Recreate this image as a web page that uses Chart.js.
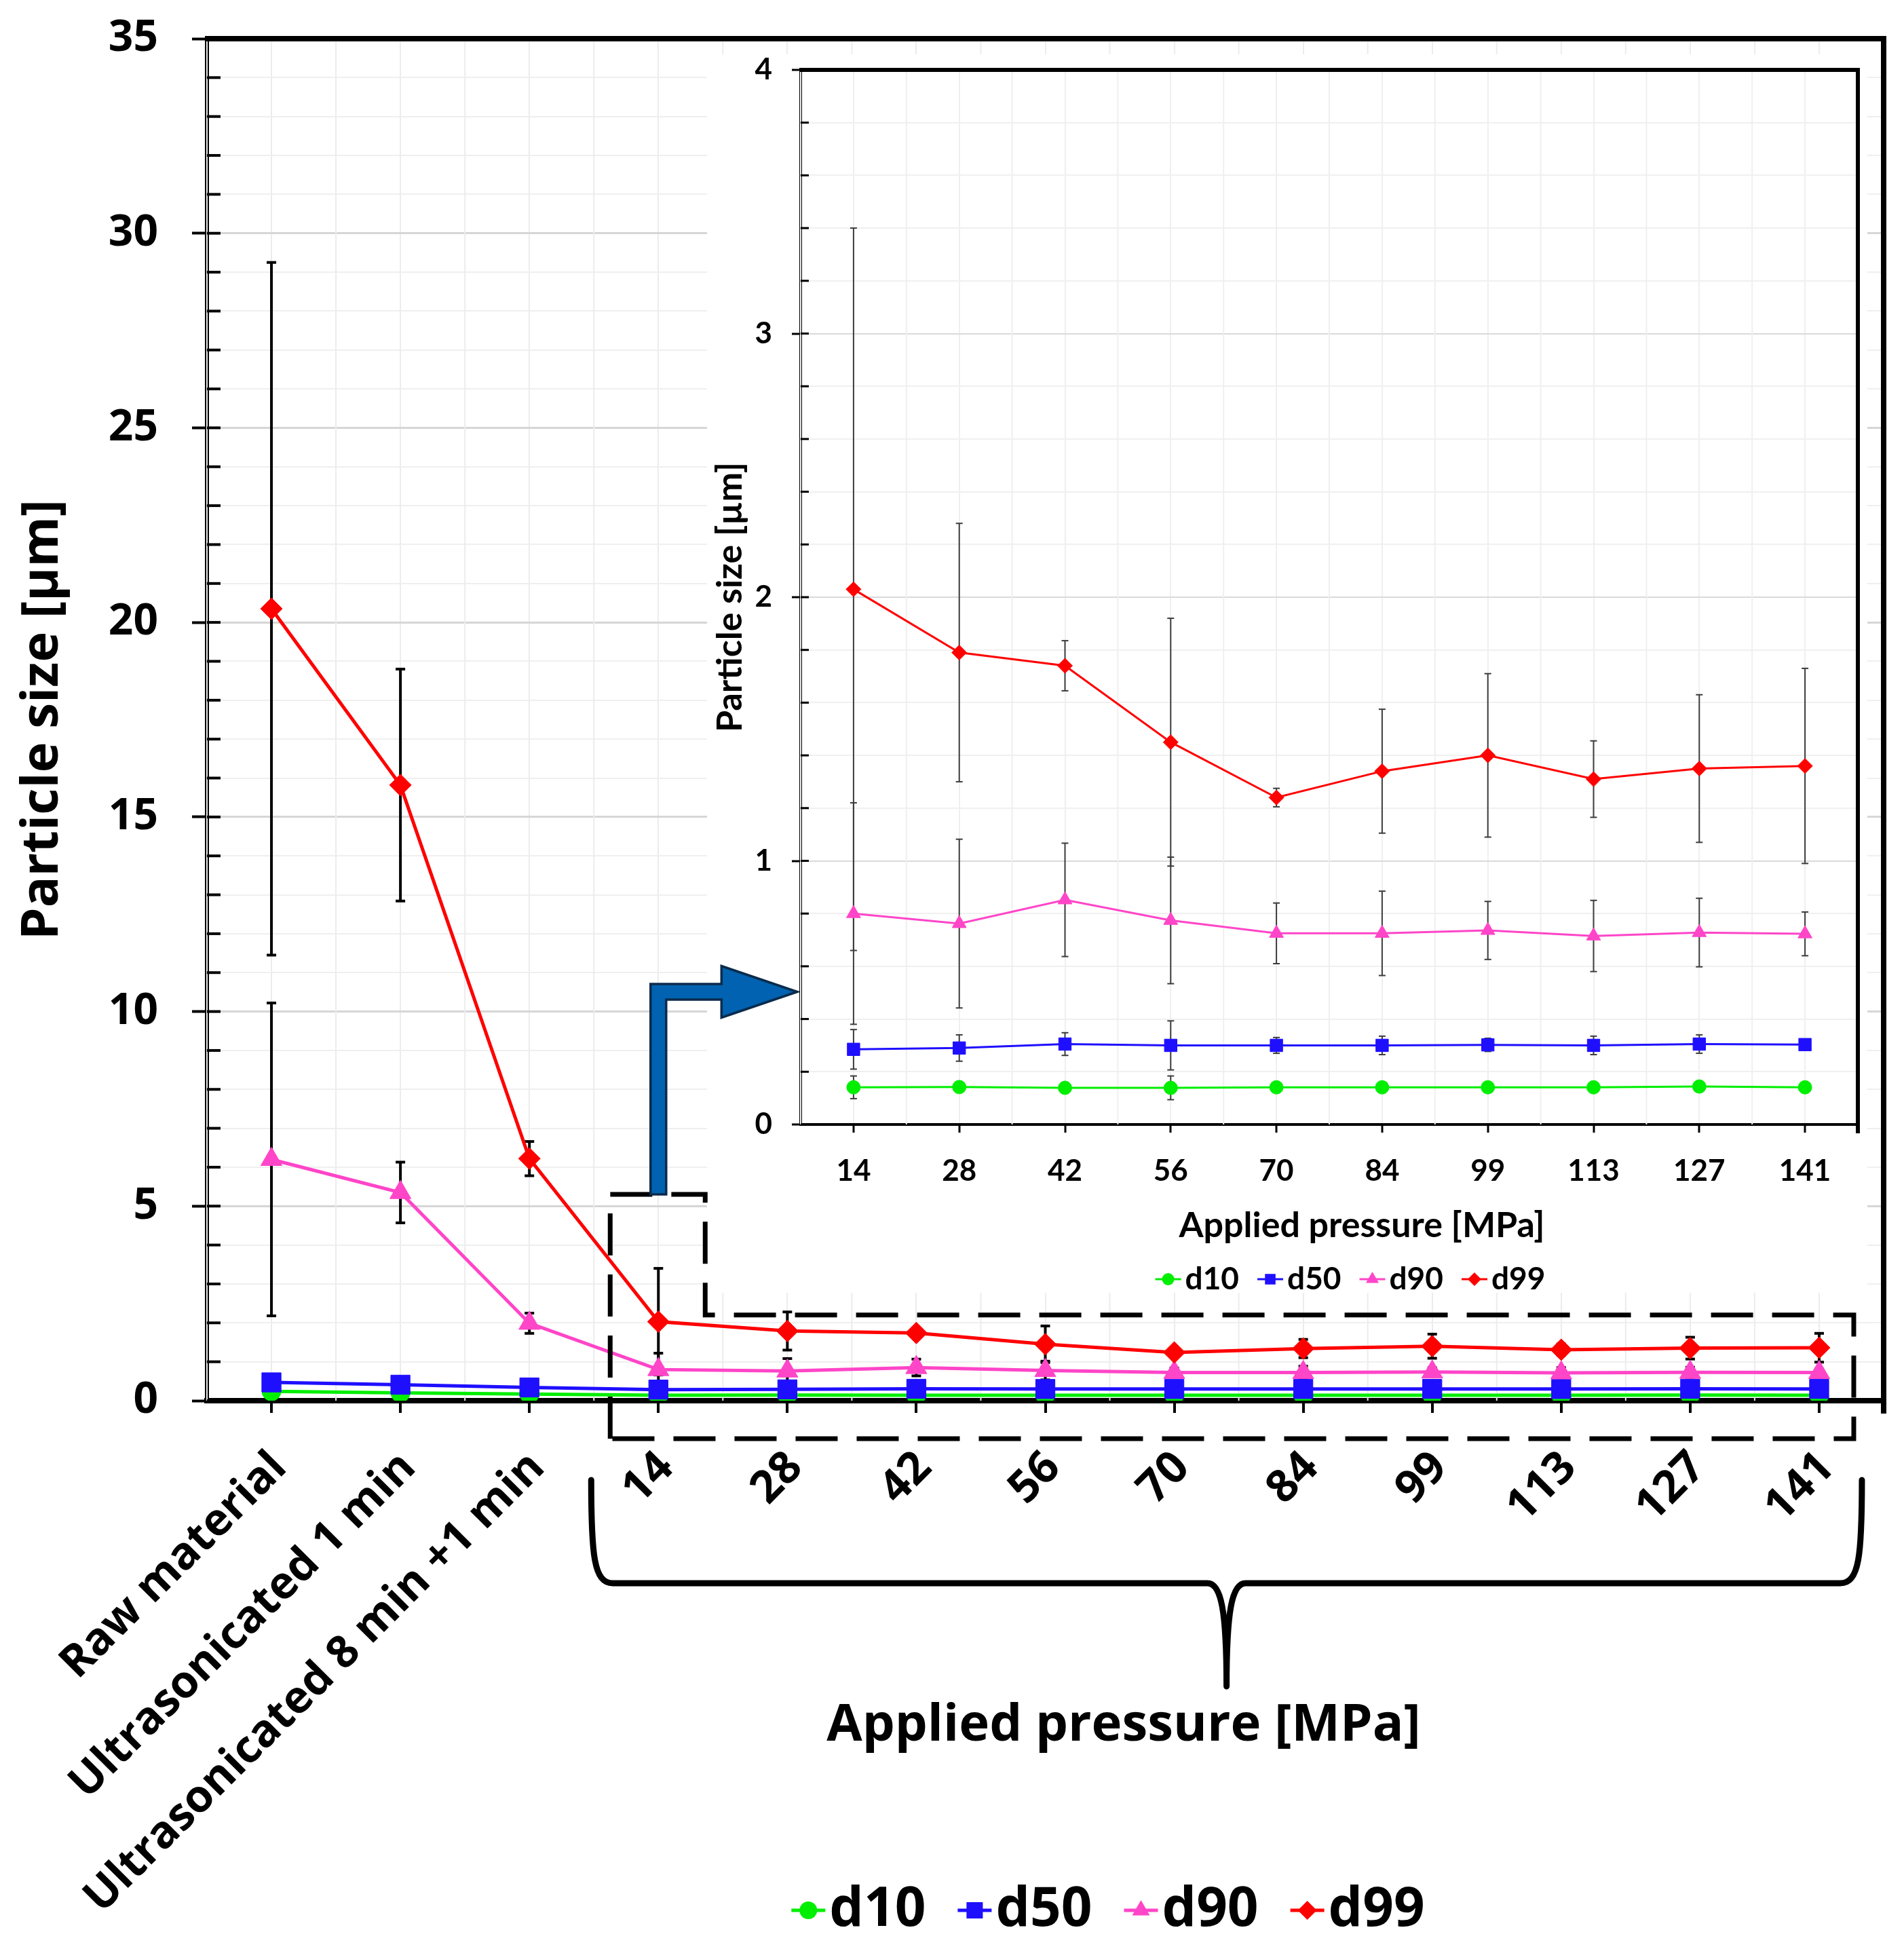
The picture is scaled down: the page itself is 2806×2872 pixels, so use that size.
<!DOCTYPE html>
<html>
<head>
<meta charset="utf-8">
<title>Particle size vs treatment</title>
<script src="https://cdn.jsdelivr.net/npm/chart.js@4.4.1/dist/chart.umd.min.js"></script>
<style>
  html, body { margin: 0; padding: 0; background: #fff; }
  #wrap { position: relative; width: 2806px; height: 2872px; }
  #main { position: absolute; left: 0; top: 0; }
  #inset { position: absolute; left: 1042px; top: 80px; }
</style>
</head>
<body>
<div id="wrap">
  <canvas id="main" width="2806" height="2872"></canvas>
  <canvas id="inset" width="1710" height="1825"></canvas>
</div>
<script>
// ---- data ----
var preLabels = ['Raw material', 'Ultrasonicated 1 min', 'Ultrasonicated 8 min +1 min'];
var pressureLabels = ['14', '28', '42', '56', '70', '84', '99', '113', '127', '141'];
var seriesNames = ['d10', 'd50', 'd90', 'd99'];

// values for the three reference samples
var d10Pre = [0.24, 0.2, 0.17];
var d50Pre = [0.47, 0.41, 0.34];
var d90Pre = [6.2, 5.35, 1.99];
var d99Pre = [20.35, 15.82, 6.22];
var d10PreErr = [0.03, 0.02, 0.02];
var d50PreErr = [0.05, 0.04, 0.03];
var d90PreErr = [4.02, 0.78, 0.26];
var d99PreErr = [8.9, 2.98, 0.44];

// values per applied pressure (MPa)
var d10 = [0.141, 0.142, 0.139, 0.139, 0.141, 0.141, 0.141, 0.141, 0.144, 0.141];
var d50 = [0.285, 0.29, 0.305, 0.3, 0.3, 0.3, 0.302, 0.3, 0.305, 0.303];
var d90 = [0.80, 0.762, 0.852, 0.774, 0.725, 0.725, 0.736, 0.715, 0.728, 0.723];
var d99 = [2.03, 1.79, 1.74, 1.45, 1.24, 1.34, 1.40, 1.31, 1.35, 1.36];
var d10Err = [0.043, 0.01, 0.01, 0.045, 0.01, 0.01, 0.01, 0.01, 0.01, 0.01];
var d50Err = [0.075, 0.05, 0.043, 0.093, 0.03, 0.035, 0.025, 0.035, 0.035, 0.02];
var d90Err = [0.42, 0.32, 0.215, 0.24, 0.115, 0.16, 0.11, 0.135, 0.13, 0.083];
var d99Err = [1.37, 0.49, 0.095, 0.47, 0.035, 0.235, 0.31, 0.145, 0.28, 0.37];

var mainTicksMax = 35;
var insetTicksMax = 4;

// ---- styles ----
var colors = ['#00ee00', '#1f0fff', '#ff45c8', '#ff0000'];
var markers = ['circle', 'rect', 'triangle', 'rectRot'];
var mainRadius = [14, 20, 18, 16];
var insetRadius = [10, 13, 12, 11];
var BIG = '"Open Sans", "DejaVu Sans", sans-serif';
var SMALL = 'Lato, "Open Sans", sans-serif';
var INSET_BOX = { left: 1042, top: 80, width: 1710, height: 1825 };

var preValues = [d10Pre, d50Pre, d90Pre, d99Pre];
var preErrors = [d10PreErr, d50PreErr, d90PreErr, d99PreErr];
var pValues = [d10, d50, d90, d99];
var pErrors = [d10Err, d50Err, d90Err, d99Err];

function line(ctx, x1, y1, x2, y2) {
  ctx.beginPath();
  ctx.moveTo(x1, y1);
  ctx.lineTo(x2, y2);
  ctx.stroke();
}

function drawMarker(ctx, style, x, y, r, color) {
  ctx.fillStyle = color;
  ctx.beginPath();
  if (style === 'circle') {
    ctx.arc(x, y, r, 0, Math.PI * 2);
  } else if (style === 'rect') {
    var s = r * Math.SQRT1_2;
    ctx.rect(x - s, y - s, 2 * s, 2 * s);
  } else if (style === 'triangle') {
    ctx.moveTo(x, y - r);
    ctx.lineTo(x + r * 0.866, y + r / 2);
    ctx.lineTo(x - r * 0.866, y + r / 2);
  } else {
    ctx.moveTo(x - r, y);
    ctx.lineTo(x, y - r);
    ctx.lineTo(x + r, y);
    ctx.lineTo(x, y + r);
  }
  ctx.closePath();
  ctx.fill();
}

function drawLegend(ctx, cx, cy, font, lineLen, lineW, radii, gap) {
  ctx.save();
  ctx.font = font;
  var widths = seriesNames.map(function (n) { return ctx.measureText(n).width; });
  var total = 0;
  widths.forEach(function (w) { total += lineLen + 6 + w; });
  total += gap * (seriesNames.length - 1);
  var x = cx - total / 2;
  seriesNames.forEach(function (name, k) {
    ctx.strokeStyle = colors[k];
    ctx.lineWidth = lineW;
    line(ctx, x, cy, x + lineLen, cy);
    drawMarker(ctx, markers[k], x + lineLen / 2, cy, radii[k], colors[k]);
    ctx.fillStyle = '#000';
    ctx.textAlign = 'left';
    ctx.textBaseline = 'middle';
    ctx.fillText(name, x + lineLen + 6, cy);
    x += lineLen + 6 + widths[k] + gap;
  });
  ctx.restore();
}

// vertical grid lines half way between categories + inner tick marks
function halfGrid(chart, color, width) {
  var ctx = chart.ctx, a = chart.chartArea, x = chart.scales.x;
  var step = x.getPixelForValue(1) - x.getPixelForValue(0);
  ctx.save();
  ctx.strokeStyle = color;
  ctx.lineWidth = width;
  for (var i = 0; i <= x.ticks.length; i++) {
    var px = x.getPixelForValue(i) - step / 2;
    line(ctx, px, a.top, px, a.bottom);
  }
  ctx.restore();
}

function innerTicks(chart, len, width) {
  var ctx = chart.ctx, a = chart.chartArea, y = chart.scales.y;
  ctx.save();
  ctx.strokeStyle = '#000';
  ctx.lineWidth = width;
  y.ticks.forEach(function (t) {
    var py = y.getPixelForValue(t.value);
    line(ctx, a.left, py, a.left + len, py);
  });
  ctx.restore();
}

function makeErrorBars(color, width, cap) {
  return {
    id: 'errorBars',
    beforeDatasetsDraw: function (chart) {
      var ctx = chart.ctx, y = chart.scales.y;
      ctx.save();
      ctx.strokeStyle = color;
      ctx.lineWidth = width;
      chart.data.datasets.forEach(function (ds, di) {
        var meta = chart.getDatasetMeta(di);
        ds.data.forEach(function (v, i) {
          var e = ds.errors[i];
          var px = meta.data[i].x;
          var top = y.getPixelForValue(v + e);
          var bot = y.getPixelForValue(Math.max(v - e, 0));
          line(ctx, px, top, px, bot);
          line(ctx, px - cap, top, px + cap, top);
          line(ctx, px - cap, bot, px + cap, bot);
        });
      });
      ctx.restore();
    }
  };
}

function isWhole(v) { return Math.abs(v - Math.round(v)) < 1e-6; }

// keep the tick label padding from pushing the plot area around
function fixWidth(w) {
  return function (s) { s.width = w; s.paddingTop = 0; s.paddingBottom = 0; };
}
function fixHeight(h) {
  return function (s) { s.height = h; s.paddingLeft = 0; s.paddingRight = 0; };
}

function buildSets(radii, lineW, withPre) {
  return seriesNames.map(function (name, k) {
    return {
      label: name,
      data: withPre ? preValues[k].concat(pValues[k]) : pValues[k],
      errors: withPre ? preErrors[k].concat(pErrors[k]) : pErrors[k],
      borderColor: colors[k],
      backgroundColor: colors[k],
      borderWidth: lineW,
      pointStyle: markers[k],
      pointRadius: radii[k],
      pointBorderWidth: 1,
      pointBorderColor: colors[k],
      pointBackgroundColor: colors[k],
      order: seriesNames.length - k
    };
  });
}

var mainDeco = {
  id: 'mainDeco',
  beforeDatasetsDraw: function (chart) {
    halfGrid(chart, '#ececec', 2);
    innerTicks(chart, 20, 4);
    var ctx = chart.ctx;
    ctx.save();
    ctx.fillStyle = '#fff';
    ctx.fillRect(INSET_BOX.left, INSET_BOX.top, INSET_BOX.width, INSET_BOX.height);
    ctx.restore();
  },
  afterDraw: function (chart) {
    var ctx = chart.ctx, a = chart.chartArea, x = chart.scales.x, y = chart.scales.y;
    var c14 = x.getPixelForValue(preLabels.length);
    var c141 = x.getPixelForValue(preLabels.length + pressureLabels.length - 1);
    ctx.save();
    // frame top + right
    ctx.strokeStyle = '#000';
    ctx.lineWidth = 8;
    line(ctx, a.left - 3, a.top, a.right + 4, a.top);
    line(ctx, a.right, a.top - 4, a.right, a.bottom + 19);

    // dashed box round the pressure points
    var L = c14 - 71, NR = c14 + 69, R = c141 + 51;
    var notchTop = y.getPixelForValue(5.3), stepY = y.getPixelForValue(2.2), bot = a.bottom + 56;
    ctx.lineWidth = 7;
    ctx.setLineDash([62, 28]);
    ctx.beginPath();
    ctx.moveTo(L, bot);
    ctx.lineTo(L, notchTop);
    ctx.lineTo(NR, notchTop);
    ctx.lineTo(NR, stepY);
    ctx.lineTo(R, stepY);
    ctx.lineTo(R, bot);
    ctx.closePath();
    ctx.stroke();
    ctx.setLineDash([]);

    // elbow arrow to the inset
    var hw = 11.5, ay = 1461.5, headX = c14 + 93, tipX = 1175, hh = 38;
    ctx.beginPath();
    ctx.moveTo(c14 - hw, notchTop);
    ctx.lineTo(c14 - hw, ay - hw);
    ctx.lineTo(headX, ay - hw);
    ctx.lineTo(headX, ay - hh);
    ctx.lineTo(tipX, ay);
    ctx.lineTo(headX, ay + hh);
    ctx.lineTo(headX, ay + hw);
    ctx.lineTo(c14 + hw, ay + hw);
    ctx.lineTo(c14 + hw, notchTop);
    ctx.closePath();
    ctx.fillStyle = '#0062b0';
    ctx.fill();
    ctx.strokeStyle = '#0b2b4c';
    ctx.lineWidth = 3.5;
    ctx.stroke();

    // curly brace under the pressure labels
    var bl = c14 - 99, br = c141 + 63, bt = 2181, bm = 2333, tipY = 2485, tx = (bl + br) / 2;
    ctx.strokeStyle = '#000';
    ctx.lineWidth = 9;
    ctx.lineCap = 'round';
    ctx.beginPath();
    ctx.moveTo(bl, bt);
    ctx.bezierCurveTo(bl, bm - 40, bl + 4, bm, bl + 32, bm);
    ctx.lineTo(tx - 28, bm);
    ctx.bezierCurveTo(tx - 8, bm, tx, bm + 40, tx, tipY);
    ctx.moveTo(tx, tipY);
    ctx.bezierCurveTo(tx, bm + 40, tx + 8, bm, tx + 28, bm);
    ctx.lineTo(br - 32, bm);
    ctx.bezierCurveTo(br - 4, bm, br, bm - 40, br, bt);
    ctx.stroke();

    ctx.fillStyle = '#000';
    ctx.font = 'bold 76px ' + BIG;
    ctx.textAlign = 'center';
    ctx.textBaseline = 'middle';
    ctx.fillText('Applied pressure [MPa]', 1656, 2543);
    ctx.restore();

    drawLegend(ctx, 1633, 2815, 'bold 80px ' + BIG, 50, 5, [13, 17, 15, 14], 47);
  }
};

var insetDeco = {
  id: 'insetDeco',
  beforeDatasetsDraw: function (chart) {
    halfGrid(chart, '#efefef', 2);
    innerTicks(chart, 12, 3);
  },
  afterDraw: function (chart) {
    var ctx = chart.ctx, a = chart.chartArea;
    ctx.save();
    ctx.strokeStyle = '#000';
    ctx.lineWidth = 6;
    line(ctx, a.left - 2, a.top, a.right + 3, a.top);
    line(ctx, a.right, a.top - 3, a.right, a.bottom + 13);
    ctx.fillStyle = '#000';
    ctx.font = 'bold 52px ' + SMALL;
    ctx.textAlign = 'center';
    ctx.textBaseline = 'middle';
    ctx.fillText('Applied pressure [MPa]', 965, 1726);
    ctx.restore();
    drawLegend(ctx, 948, 1805, 'bold 46px ' + SMALL, 38, 3, [9, 11, 11, 10], 27);
  }
};

function makeCharts() {
  new Chart(document.getElementById('main'), {
    type: 'line',
    data: { labels: preLabels.concat(pressureLabels), datasets: buildSets(mainRadius, 5, true) },
    plugins: [mainDeco, makeErrorBars('#000', 4, 7)],
    options: {
      responsive: false,
      animation: false,
      layout: { padding: { left: 0, top: 57, right: 30, bottom: 0 } },
      plugins: { legend: { display: false }, tooltip: { enabled: false } },
      scales: {
        x: {
          offset: true,
          grid: { offset: false, color: '#ececec', lineWidth: 2, tickLength: 18, tickColor: '#000', tickWidth: 4 },
          border: { color: '#000', width: 8 },
          ticks: {
            autoSkip: false, maxRotation: 45, minRotation: 45, padding: 42, labelOffset: 12, color: '#000',
            font: { family: BIG, weight: 'bold', size: 66 }
          },
          afterFit: fixHeight(808)
        },
        y: {
          min: 0,
          max: mainTicksMax,
          ticks: {
            stepSize: 1, autoSkip: false, padding: 50, color: '#000',
            font: { family: BIG, weight: 'bold', size: 64 },
            callback: function (v) { return v % 5 === 0 ? v : ''; }
          },
          grid: {
            color: function (c) { return c.tick && c.tick.value % 5 === 0 ? '#d6d6d6' : '#efefef'; },
            lineWidth: function (c) { return c.tick && c.tick.value % 5 === 0 ? 3 : 2; },
            tickColor: function (c) { return c.tick && c.tick.value % 5 === 0 ? '#000' : 'rgba(0,0,0,0)'; },
            tickLength: 22,
            tickWidth: 4
          },
          border: { color: '#000', width: 6 },
          title: {
            display: true, text: 'Particle size [µm]', color: '#000',
            font: { family: BIG, weight: 'bold', size: 76 }, padding: { top: 18, bottom: 0 }
          },
          afterFit: fixWidth(305)
        }
      }
    }
  });

  new Chart(document.getElementById('inset'), {
    type: 'line',
    data: { labels: pressureLabels, datasets: buildSets(insetRadius, 3, false) },
    plugins: [insetDeco, makeErrorBars('#3c3c3c', 2, 5)],
    options: {
      responsive: false,
      animation: false,
      layout: { padding: { left: 0, top: 23, right: 11, bottom: 68 } },
      plugins: { legend: { display: false }, tooltip: { enabled: false } },
      scales: {
        x: {
          offset: true,
          grid: { offset: false, color: '#efefef', lineWidth: 2, tickLength: 12, tickColor: '#000', tickWidth: 3 },
          border: { color: '#000', width: 4 },
          ticks: { autoSkip: false, maxRotation: 0, padding: 30, color: '#000', font: { family: SMALL, weight: 'bold', size: 44 } },
          afterFit: fixHeight(180)
        },
        y: {
          min: 0,
          max: insetTicksMax,
          ticks: {
            stepSize: 0.2, autoSkip: false, padding: 29, color: '#000',
            font: { family: SMALL, weight: 'bold', size: 44 },
            callback: function (v) { return isWhole(v) ? Math.round(v) : ''; }
          },
          grid: {
            color: function (c) { return c.tick && isWhole(c.tick.value) ? '#dadada' : '#f0f0f0'; },
            lineWidth: 2,
            tickColor: function (c) { return c.tick && isWhole(c.tick.value) ? '#000' : 'rgba(0,0,0,0)'; },
            tickLength: 13,
            tickWidth: 3
          },
          border: { color: '#000', width: 4 },
          title: {
            display: true, text: 'Particle size [µm]', color: '#000',
            font: { family: SMALL, weight: 'bold', size: 52 }, padding: { top: 3, bottom: 0 }
          },
          afterFit: fixWidth(138)
        }
      }
    }
  });
}

Promise.all([
  document.fonts.load('bold 64px "Open Sans"'),
  document.fonts.load('bold 44px Lato')
]).then(makeCharts, makeCharts);
</script>
</body>
</html>
